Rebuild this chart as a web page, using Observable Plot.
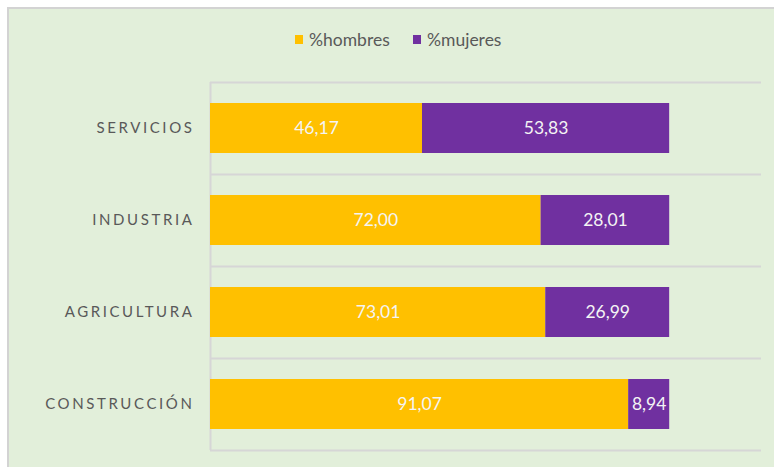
<!DOCTYPE html>
<html>
<head>
<meta charset="utf-8">
<script src="https://cdn.jsdelivr.net/npm/d3@7"></script>
<script src="https://cdn.jsdelivr.net/npm/@observablehq/plot@0.6"></script>
<style>
  html, body { margin: 0; padding: 0; background: #ffffff; }
  #wrap { position: relative; width: 774px; height: 467px; overflow: hidden; }
  #bg { position: absolute; left: 7px; top: 7px; width: 780px; height: 480px;
        background: #E2EFDA; border-left: 2px solid #d3d3d3; border-top: 2px solid #d3d3d3; }
  #legend { position: absolute; top: 29px; left: 0; width: 774px;
            font-family: Lato, sans-serif; font-size: 17.5px; color: #595959; }
  .item { position: absolute; display: flex; align-items: center; }
  .sw { width: 8px; height: 9px; margin-right: 6px; }
  #chart { position: absolute; left: 0; top: 0; }
</style>
</head>
<body>
<div id="wrap">
  <div id="bg"></div>
  <div id="legend"></div>
  <div id="chart"></div>
</div>
<script>
const sectors = ["SERVICIOS", "INDUSTRIA", "AGRICULTURA", "CONSTRUCCIÓN"];
const series = ["%hombres", "%mujeres"];
const hombres = [46.17, 72.00, 73.01, 91.07];
const mujeres = [53.83, 28.01, 26.99, 8.94];
const colors = ["#FFC000", "#7030A0"];

const data = [];
sectors.forEach((s, i) => {
  data.push({sector: s, sexo: series[0], value: hombres[i]});
  data.push({sector: s, sexo: series[1], value: mujeres[i]});
});
const fmt = v => v.toFixed(2).replace(".", ",");

// legend
const legend = document.getElementById("legend");
const legendX = [295, 413];
series.forEach((s, i) => {
  const it = document.createElement("div");
  it.className = "item";
  it.style.left = legendX[i] + "px";
  it.innerHTML = `<span class="sw" style="background:${colors[i]}"></span><span>${s}</span>`;
  legend.appendChild(it);
});

const half = 46;
const chart = Plot.plot({
  width: 774,
  height: 467,
  marginLeft: 210,
  marginRight: 13,
  marginTop: 82,
  marginBottom: 17,
  style: {background: "transparent", fontFamily: "Lato, sans-serif"},
  x: {domain: [0, 120], axis: null},
  y: {domain: sectors, paddingInner: 0.457, paddingOuter: 0.2285, label: null},
  color: {domain: series, range: colors},
  marks: [
    Plot.ruleY(sectors, {y: d => d, dy: -half, stroke: "#d6d6d6", strokeWidth: 2}),
    Plot.ruleY([sectors[sectors.length - 1]], {y: d => d, dy: half, stroke: "#d6d6d6", strokeWidth: 2}),
    Plot.ruleX([0], {stroke: "#d6d6d6", strokeWidth: 2}),
    Plot.barX(data, Plot.stackX({x: "value", y: "sector", fill: "sexo"})),
    Plot.text(data, Plot.stackX({x: "value", y: "sector", z: "sexo", text: d => fmt(d.value),
      fill: "#f4f4f4", fontSize: 17.5})),
    Plot.axisY({tickSize: 0, tickPadding: 16, fontSize: 15, color: "#595959"})
  ]
});
document.getElementById("chart").appendChild(chart);
chart.querySelectorAll('[aria-label="y-axis tick label"] text').forEach(t => {
  t.setAttribute("fill", "#595959");
  t.style.letterSpacing = "2.6px";
});
</script>
</body>
</html>
